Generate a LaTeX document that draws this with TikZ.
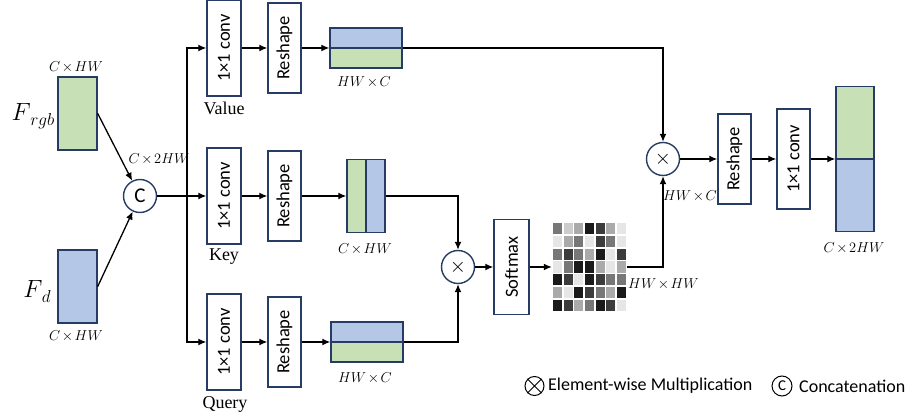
\documentclass[tikz,border=0pt]{standalone}
\usepackage{fontspec}
\setmainfont{Liberation Serif}
\setsansfont{Carlito}
\usetikzlibrary{arrows.meta}
\definecolor{navy}{RGB}{38,60,100}
\definecolor{gfill}{RGB}{200,224,182}
\definecolor{bfill}{RGB}{180,199,231}
\definecolor{g1}{RGB}{230,230,230}
\definecolor{g2}{RGB}{204,204,204}
\definecolor{g3}{RGB}{170,170,170}
\definecolor{g4}{RGB}{119,119,119}
\definecolor{g5}{RGB}{60,60,60}
\definecolor{g6}{RGB}{26,26,26}
\newcommand{\dimx}[2]{$#1{\mkern2mu\times\mkern2mu}#2$}
\begin{document}
\begin{tikzpicture}[x=1pt,y=-1pt,
  arr/.style={-{Latex[length=8pt,width=7pt]}, line width=1.3pt, black},
  blk/.style={draw=navy, line width=1.4pt, fill=white, inner sep=0pt, rotate=90, font=\sffamily\fontsize{18.5}{18.5}\selectfont},
  convbox/.style={blk, minimum width=96pt, minimum height=34pt},
  resbox/.style={blk, minimum width=90pt, minimum height=33pt},
  op/.style={circle, draw=navy, line width=1.4pt, fill=white, minimum size=33pt, inner sep=0pt},
  tens/.style={draw=navy, line width=1.4pt, inner sep=0pt},
  htens/.style={tens, minimum width=72pt, minimum height=40pt,
    path picture={\fill[bfill] (path picture bounding box.north west) rectangle (path picture bounding box.east);
                  \fill[gfill] (path picture bounding box.west) rectangle (path picture bounding box.south east);}},
  lbl/.style={inner sep=0pt, font=\fontsize{14.5}{14.5}\selectfont},
  nm/.style={inner sep=0pt, font=\fontsize{18}{18}\selectfont},
  legtxt/.style={inner sep=0pt, anchor=west, font=\sffamily\fontsize{18}{18}\selectfont},
]
\useasboundingbox (0,0) rectangle (914,419);

% inputs
\node[tens, fill=gfill, minimum width=39pt, minimum height=73pt] (frgb) at (77.5,113.5) {};
\node[tens, fill=bfill, minimum width=39pt, minimum height=73pt] (fd) at (77.5,286.5) {};
\node[inner sep=0pt] (frgbl) at (33,116) {{\fontsize{23}{23}\selectfont$F$}\kern-0.5pt\raisebox{-5pt}{\fontsize{16.5}{16.5}\selectfont$rgb$}};
\node[inner sep=0pt] (fdl) at (37,292) {{\fontsize{23}{23}\selectfont$F$}\kern-0.5pt\raisebox{-5pt}{\fontsize{16.5}{16.5}\selectfont$d$}};
\node[lbl] (l1) at (76,67.5) {\dimx{C}{HW}};
\node[lbl] (l2) at (76,336) {\dimx{C}{HW}};
\node[op, font=\sffamily\fontsize{21}{21}\selectfont] (cc) at (140,196) {C};
\node[lbl] (l3) at (159,159) {\dimx{C}{2HW}};

% branch boxes
\node[convbox] (vconv) at (224,48) {1×1 conv};
\node[convbox] (kconv) at (224,196) {1×1 conv};
\node[convbox] (qconv) at (224,342) {1×1 conv};
\node[resbox] (vres) at (284.5,48) {Reshape};
\node[resbox] (kres) at (284.5,196) {Reshape};
\node[resbox] (qres) at (284.5,342) {Reshape};
\node[nm] (vl) at (224,108) {Value};
\node[nm] (kl) at (224,257) {Key};
\node[nm] (ql) at (225,404) {Query};

% tensors
\node[htens] (vt) at (366,48) {};
\draw[navy, line width=1.4pt] (vt.west) -- (vt.east);
\node[tens, minimum width=38pt, minimum height=73pt,
  path picture={\fill[gfill] (path picture bounding box.north west) rectangle (path picture bounding box.south);
                \fill[bfill] (path picture bounding box.north) rectangle (path picture bounding box.south east);}] (kt) at (366,196) {};
\draw[navy, line width=1.4pt] (kt.north) -- (kt.south);
\node[htens] (qt) at (367,342) {};
\draw[navy, line width=1.4pt] (qt.west) -- (qt.east);
\node[lbl] (l4) at (364,82) {\dimx{HW}{C}};
\node[lbl] (l5) at (365,249) {\dimx{C}{HW}};
\node[lbl] (l6) at (365,378) {\dimx{HW}{C}};

% attention
\node[op, font=\fontsize{22}{22}\selectfont] (m1) at (458,267) {$\times$};
\node[blk, minimum width=95pt, minimum height=35pt] (soft) at (511.5,267) {Softmax};
\node[minimum width=75pt, minimum height=89pt, inner sep=0pt] (grid) at (589.5,267) {};
\foreach \row [count=\r] in {{4,2,3,6,5,3,1},{1,3,4,1,5,4,1},{4,5,4,3,6,1,5},{1,4,6,6,3,1,3},{6,5,1,6,5,4,4},{3,1,6,5,4,3,6},{6,5,3,4,6,5,1}} {
  \foreach \v [count=\c] in \row {
    \fill[g\v] ({552+(\c-1)*75/7+0.8}, {222.5+(\r-1)*89/7+0.8}) rectangle ({552+\c*75/7-0.8}, {222.5+\r*89/7-0.8});
  }
}
\node[lbl] (l7) at (663.5,284) {\dimx{HW}{HW}};

% output
\node[op, font=\fontsize{22}{22}\selectfont] (m2) at (663,159) {$\times$};
\node[lbl] (l8) at (690,196) {\dimx{HW}{C}};
\node[resbox] (res2) at (734.5,159) {Reshape};
\node[blk, minimum width=100pt, minimum height=33pt] (conv2) at (793.5,159) {1×1 conv};
\node[tens, minimum width=38pt, minimum height=145pt,
  path picture={\fill[gfill] (path picture bounding box.north west) rectangle (path picture bounding box.east);
                \fill[bfill] (path picture bounding box.west) rectangle (path picture bounding box.south east);}] (out) at (855,159) {};
\draw[navy, line width=1.4pt] (out.west) -- (out.east);
\node[lbl] (l9) at (854,248) {\dimx{C}{2HW}};

% connectors
\coordinate (sp) at (187,196);
\draw[arr] (frgb.east) -- (cc);
\draw[arr] (fd.east) -- (cc);
\draw[arr] (cc) -- (kconv);
\draw[arr] (sp) |- (vconv);
\draw[arr] (sp) |- (qconv);
\draw[arr] (vconv) -- (vres);
\draw[arr] (kconv) -- (kres);
\draw[arr] (qconv) -- (qres);
\draw[arr] (vres) -- (vt);
\draw[arr] (kres) -- (kt);
\draw[arr] (qres) -- (qt);
\draw[arr] (vt) -| (m2);
\draw[arr] (kt) -| (m1);
\draw[arr] (qt) -| (m1);
\draw[arr] (m1) -- (soft);
\draw[arr] (soft) -- (grid);
\draw[arr] (grid) -| (m2);
\draw[arr] (m2) -- (res2);
\draw[arr] (res2) -- (conv2);
\draw[arr] (conv2) -- (out);

% legend
\node[circle, draw=black, line width=1pt, minimum size=19pt, inner sep=0pt] (lm) at (534.5,386) {};
\draw[line width=1pt] (lm.north east) -- (lm.south west) (lm.north west) -- (lm.south east);
\node[legtxt] (lmt) at (548,386) {Element-wise Multiplication};
\node[circle, draw=black, line width=1pt, minimum size=20pt, inner sep=0pt, font=\sffamily\fontsize{15}{15}\selectfont] (lc) at (782,386) {C};
\node[legtxt] (lct) at (799,386) {Concatenation};
\end{tikzpicture}
\end{document}
